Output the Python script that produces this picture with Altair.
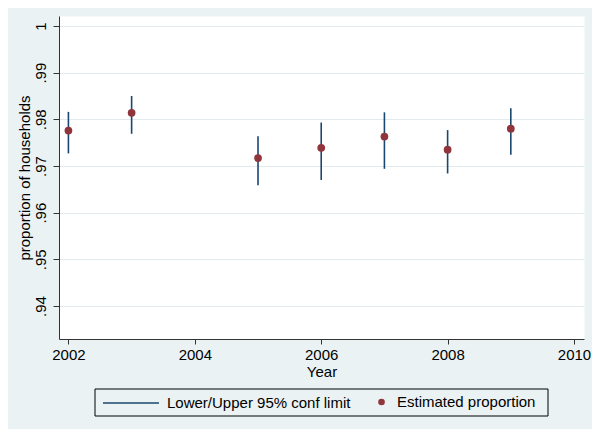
import altair as alt
import pandas as pd

years = [2002, 2003, 2005, 2006, 2007, 2008, 2009]
estimate = [0.9776, 0.9814, 0.9717, 0.9739, 0.9763, 0.9735, 0.9780]
lower = [0.9727, 0.9769, 0.9659, 0.9670, 0.9694, 0.9684, 0.9724]
upper = [0.9816, 0.9850, 0.9764, 0.9793, 0.9815, 0.9777, 0.9824]

x_ticks = [2002, 2004, 2006, 2008, 2010]
y_ticks = [0.94, 0.95, 0.96, 0.97, 0.98, 0.99, 1.0]

ci_label = "Lower/Upper 95% conf limit"
est_label = "Estimated proportion"

NAVY = "#1A476F"
MAROON = "#90353B"
BG = "#EAF2F3"
FONT = "Liberation Sans"

df = pd.DataFrame({"year": years, "est": estimate, "lo": lower, "hi": upper})

W, H = 525, 323

x_enc = alt.X(
    "year:Q",
    scale=alt.Scale(domain=[2001.851, 2010.158], nice=False, zero=False),
    axis=alt.Axis(
        values=x_ticks, format="d", grid=False, title="Year",
        tickSize=5, labelPadding=15, labelBaseline="alphabetic",
        titleY=37, titleBaseline="alphabetic", titleX=W / 2,
    ),
)
y_scale = alt.Scale(domain=[0.932929, 1.002143], nice=False, zero=False)
y_axis = alt.Axis(
    values=y_ticks,
    labelExpr="datum.value == 1 ? '1' : replace(format(datum.value, '.2f'), '0.', '.')",
    grid=True, gridColor="#E1EBEE", gridWidth=1,
    title="proportion of households",
    tickSize=6, labelPadding=8, labelAngle=270, labelAlign="center",
    labelBaseline="alphabetic",
    titleAngle=270, titleX=-30, titleY=H / 2, titleBaseline="alphabetic",
    titleAlign="center",
)

box = alt.Chart(pd.DataFrame({"k": [0]})).mark_rect(
    fillOpacity=0, stroke="black", strokeWidth=1
).encode(
    x=alt.value(36), x2=alt.value(489), y=alt.value(373), y2=alt.value(400)
)

rules = alt.Chart(df).transform_calculate(
    series=f"'{ci_label}'"
).mark_rule(strokeWidth=1.6).encode(
    x=x_enc,
    y=alt.Y("lo:Q", scale=y_scale, axis=y_axis),
    y2="hi:Q",
    stroke=alt.Stroke(
        "series:N",
        scale=alt.Scale(domain=[ci_label], range=[NAVY]),
        legend=alt.Legend(
            title=None, orient="none", legendX=43, legendY=358,
            symbolType="stroke", symbolSize=3136, symbolStrokeWidth=1.6,
            labelOffset=7, padding=0, labelLimit=0,
        ),
    ),
)

points = alt.Chart(df).transform_calculate(
    series2=f"'{est_label}'"
).mark_circle(size=60, opacity=1).encode(
    x=alt.X("year:Q"),
    y=alt.Y("est:Q"),
    fill=alt.Fill(
        "series2:N",
        scale=alt.Scale(domain=[est_label], range=[MAROON]),
        legend=alt.Legend(
            title=None, orient="none", legendX=315, legendY=378.5,
            symbolType="circle", symbolSize=44, labelOffset=8, padding=0,
            symbolStrokeWidth=0, labelLimit=0,
        ),
    ),
)

chart = alt.layer(box, rules, points).resolve_scale(
    stroke="independent", fill="independent"
).properties(
    width=W, height=H, background=BG,
    autosize=alt.AutoSizeParams(type="none"),
    padding={"left": 51, "top": 8, "right": 8, "bottom": 90},
).configure_view(
    fill="white", stroke="transparent"
).configure_axis(
    labelFont=FONT, titleFont=FONT, labelFontSize=15, titleFontSize=15,
    titleFontWeight="normal", labelColor="black", titleColor="black",
    domainColor="#333333", tickColor="#333333", domainWidth=1, tickWidth=1,
).configure_legend(
    labelFont=FONT, labelFontSize=15, labelColor="black",
)

chart.save("out.html", embed_options={"renderer": "svg", "actions": False})
